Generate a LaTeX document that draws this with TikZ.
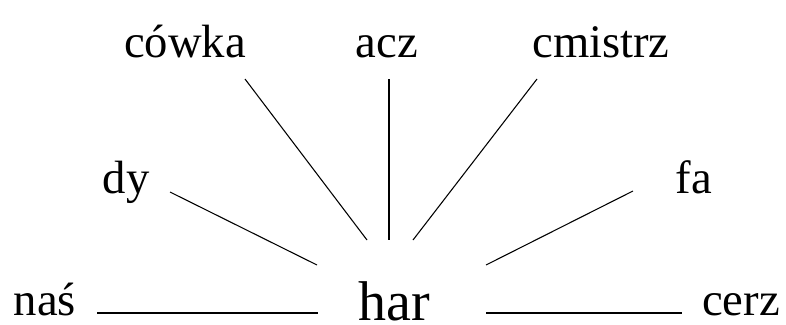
\documentclass[tikz,border=0pt]{standalone}
\usepackage{fontspec}
\setmainfont{Liberation Serif}
\newfontfamily\lserif{Liberation Serif}
\begin{document}
\begin{tikzpicture}[x=0.75pt,y=-0.75pt,
  lbl/.style={inner sep=0pt,anchor=base,font=\lserif\fontsize{35}{40}\selectfont},
  hub/.style={inner sep=0pt,anchor=base,text depth=0pt,font=\lserif\fontsize{42}{48}\selectfont},
  link/.style={line width=0.8pt,black}]
\useasboundingbox (0,0) rectangle (786,325);
\node[hub] (har) at (394,320) {har};
\node[lbl] (nas) at (45,315) {naś};
\node[lbl] (dy) at (126,193) {dy};
\node[lbl] (cowka) at (185,57) {cówka};
\node[lbl] (acz) at (387,57) {acz};
\node[lbl] (cmistrz) at (601,57) {cmistrz};
\node[lbl] (fa) at (694,193) {fa};
\node[lbl] (cerz) at (741,315) {cerz};
% connector end points
\coordinate (nasE) at (97,313);   \coordinate (harW) at (318,313);
\coordinate (dyE) at (170,192);   \coordinate (harDy) at (317,265);
\coordinate (cowkaE) at (245,79); \coordinate (harCowka) at (367,240);
\coordinate (aczE) at (389,79);   \coordinate (harAcz) at (389,240);
\coordinate (cmistrzE) at (537,79); \coordinate (harCmistrz) at (413,240);
\coordinate (faE) at (633,191);   \coordinate (harFa) at (486,265);
\coordinate (cerzE) at (682,313); \coordinate (harE) at (486,313);
\draw[link] (nasE) -- (harW);
\draw[link] (dyE) -- (harDy);
\draw[link] (cowkaE) -- (harCowka);
\draw[link] (aczE) -- (harAcz);
\draw[link] (cmistrzE) -- (harCmistrz);
\draw[link] (faE) -- (harFa);
\draw[link] (harE) -- (cerzE);
\end{tikzpicture}
\end{document}
